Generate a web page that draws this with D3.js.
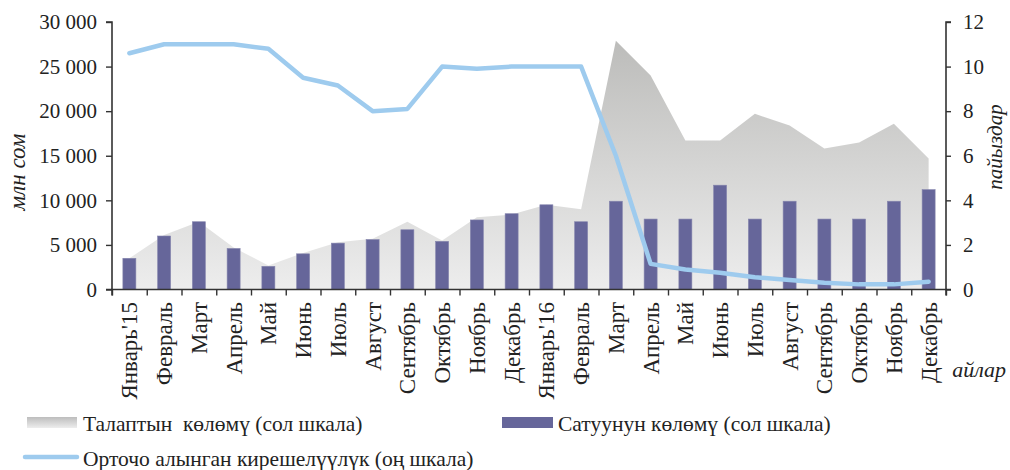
<!DOCTYPE html>
<html><head><meta charset="utf-8">
<script src="https://cdn.jsdelivr.net/npm/d3@7"></script>
<style>body{margin:0;background:#fff}svg{display:block}text{font-family:"Liberation Serif","Times New Roman",serif;fill:#222}</style>
</head><body><svg id="c" width="1010" height="470"></svg>
<script>
const months = ["Январь'15","Февраль","Март","Апрель","Май","Июнь","Июль","Август","Сентябрь","Октябрь","Ноябрь","Декабрь","Январь'16","Февраль","Март","Апрель","Май","Июнь","Июль","Август","Сентябрь","Октябрь","Ноябрь","Декабрь"];
const demand = [3500,6100,7600,4700,2700,4100,5300,5700,7600,5500,8100,8400,9500,9000,27900,24000,16700,16700,19700,18400,15800,16500,18600,14700];
const sales = [3500,6000,7600,4600,2600,4000,5200,5600,6700,5400,7800,8500,9500,7600,9900,7900,7900,11700,7900,9900,7900,7900,9900,11200];
const yieldPct = [10.6,11.0,11.0,11.0,10.8,9.5,9.15,8.0,8.1,10.0,9.9,10.0,10.0,10.0,6.0,1.15,0.9,0.75,0.55,0.43,0.3,0.23,0.23,0.35];
const leftTicks = [0,5000,10000,15000,20000,25000,30000];
const rightTicks = [0,2,4,6,8,10,12];
const legendLabels = ["Талаптын  көлөмү (сол шкала)","Сатуунун көлөмү (сол шкала)","Орточо алынган кирешелүүлүк (оң шкала)"];

const svg = d3.select("#c");
const L=112, R=946, T=22, B=289.5;
const x = d3.scaleBand().domain(d3.range(months.length)).range([L,R]).padding(0);
const yL = d3.scaleLinear().domain([0,30000]).range([B,T]);
const yR = d3.scaleLinear().domain([0,12]).range([B,T]);
const cx = i => x(i)+x.bandwidth()/2;
const fmt = v => d3.format(",")(v).replace(/,/g," ");

const defs = svg.append("defs");
const g1 = defs.append("linearGradient").attr("id","ag").attr("gradientUnits","userSpaceOnUse")
  .attr("x1",0).attr("x2",0).attr("y1",yL(28000)).attr("y2",B);
g1.append("stop").attr("offset",0).attr("stop-color","#bcbcba");
g1.append("stop").attr("offset",1).attr("stop-color","#ededed");
const g2 = defs.append("linearGradient").attr("id","lg").attr("x1",0).attr("x2",0).attr("y1",0).attr("y2",1);
g2.append("stop").attr("offset",0).attr("stop-color","#bdbdbd");
g2.append("stop").attr("offset",1).attr("stop-color","#ededed");

// area
svg.append("path").datum(demand)
  .attr("d", d3.area().x((d,i)=>cx(i)).y0(B).y1(d=>yL(d)))
  .attr("fill","url(#ag)");

// bars
const bw = 13;
svg.selectAll("rect.bar").data(sales).join("rect").attr("class","bar")
  .attr("x",(d,i)=>cx(i)-bw/2).attr("width",bw)
  .attr("y",d=>yL(d)).attr("height",d=>B-yL(d))
  .attr("fill","#66669a").attr("stroke","#8585ad").attr("stroke-width",0.6);

// line
svg.append("path").datum(yieldPct)
  .attr("d", d3.line().x((d,i)=>cx(i)).y(d=>yR(d)))
  .attr("fill","none").attr("stroke","#9ecbee").attr("stroke-width",4.5)
  .attr("stroke-linecap","round").attr("stroke-linejoin","round");

// left axis
const ax = svg.append("g").attr("transform",`translate(${L},0)`)
  .call(d3.axisLeft(yL).tickValues(leftTicks).tickFormat(fmt).tickSize(6).tickPadding(9));
ax.selectAll("text").style("font-size","21px").style("fill","#222");
// right axis
const ar = svg.append("g").attr("transform",`translate(${R},0)`)
  .call(d3.axisRight(yR).tickValues(rightTicks).tickSize(5).tickPadding(12));
ar.selectAll("text").style("font-size","21px").style("fill","#222");
// bottom axis
const xb = d3.scaleLinear().domain([0,months.length]).range([L,R]);
const ab = svg.append("g").attr("transform",`translate(0,${B})`)
  .call(d3.axisBottom(xb).tickValues(d3.range(months.length+1)).tickFormat("").tickSize(6));
[ax,ar,ab].forEach(a=>{a.selectAll("path.domain").attr("stroke","#333").attr("stroke-width",1.6);
  a.selectAll(".tick line").attr("stroke","#333").attr("stroke-width",1.4);});
ax.select("path.domain").attr("d",`M-6,${T}H0V${B}H-6`);
ar.select("path.domain").attr("d",`M5,${T}H0V${B}H5`);
ab.select("path.domain").attr("d",`M${L},6V0H${R}V6`);

// x labels
svg.selectAll("text.xl").data(months).join("text").attr("class","xl")
  .attr("transform",(d,i)=>`translate(${cx(i)},302) rotate(-90)`)
  .attr("text-anchor","end").attr("dy","0.35em").style("font-size","23px").text(d=>d);

// axis titles
svg.append("text").attr("transform","translate(17,172) rotate(-90)").attr("text-anchor","middle")
  .attr("dy","0.35em").style("font-size","23px").style("font-style","italic").text("млн сом");
svg.append("text").attr("transform","translate(995,147) rotate(-90)").attr("text-anchor","middle")
  .attr("dy","0.35em").style("font-size","21px").style("font-style","italic").text("пайыздар");
svg.append("text").attr("x",1006).attr("y",377).attr("text-anchor","end")
  .style("font-size","22px").style("font-style","italic").text("айлар");

// legend
const lg = svg.append("g");
lg.append("rect").attr("x",27).attr("y",417).attr("width",50).attr("height",11).attr("fill","url(#lg)");
lg.append("text").attr("x",83).attr("y",423).attr("dy","0.35em").style("font-size","21.5px").attr("xml:space","preserve").text(legendLabels[0]);
lg.append("rect").attr("x",502).attr("y",417).attr("width",51).attr("height",11).attr("fill","#66669a");
lg.append("text").attr("x",558).attr("y",423).attr("dy","0.35em").style("font-size","21.5px").text(legendLabels[1]);
lg.append("line").attr("x1",25).attr("x2",77).attr("y1",457).attr("y2",457).attr("stroke","#9ecbee").attr("stroke-width",4.5).attr("stroke-linecap","round");
lg.append("text").attr("x",83).attr("y",458).attr("dy","0.35em").style("font-size","21.5px").text(legendLabels[2]);
</script></body></html>
